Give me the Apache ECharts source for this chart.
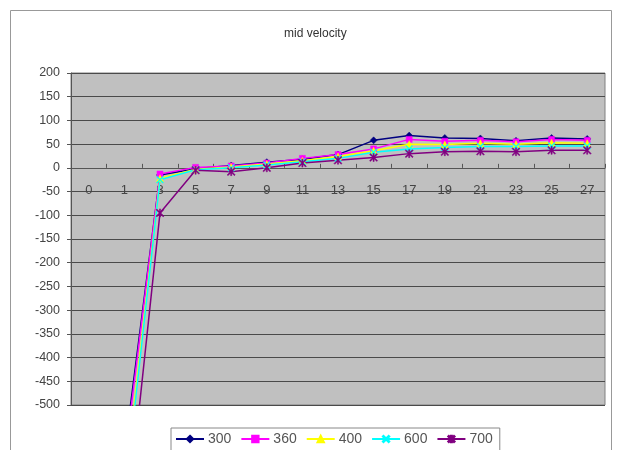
<!DOCTYPE html>
<html><head><meta charset="utf-8">
<script src="https://cdn.jsdelivr.net/npm/echarts@6/dist/echarts.min.js"></script>
<style>html,body{margin:0;padding:0;background:#fff}#c{width:618px;height:450px}</style>
</head><body><div id="c"></div>
<script>
const categories = ['0','1','3','5','7','9','11','13','15','17','19','21','23','25','27'];
const seriesNames = ['300','360','400','600','700'];
const s300 = [null,-600,-15,-2,5,12,18,28,58,68,63,62,57,63,61];
const s360 = [null,-620,-13,1,4,10,20,28,40,60,56,58,55,60,58];
const s400 = [null,-680,-22,-3,2,8,15,24,36,50,49,52,50,53,52];
const s600 = [null,-700,-25,-4,0,6,13,20,33,40,43,45,45,46,46];
const s700 = [null,-800,-95,-5,-8,0,10,16,22,30,34,35,34,37,37];
const yMin = -500, yMax = 200, yStep = 50;

const colors = ['#000080','#FF00FF','#FFFF00','#00FFFF','#800080'];
const symbols = [
  'diamond','rect','triangle',
  'path://M0,1L1,0L5,4L9,0L10,1L6,5L10,9L9,10L5,6L1,10L0,9L4,5Z',
  'path://M0,1L1,0L5,4L9,0L10,1L6,5L10,9L9,10L5,6L1,10L0,9L4,5ZM4.3,0L5.7,0L5.7,10L4.3,10Z'
];
const sizes = [7,6,7,7,8];
const allData = [s300,s360,s400,s600,s700];

const W = 618, H = 450;
const gridTop = 73, gridBottom = 45;
const plotH = H - gridTop - gridBottom;
const zeroOffset = -plotH * (0 - yMin) / (yMax - yMin);

const chart = echarts.init(document.getElementById('c'), null, {renderer:'canvas'});
chart.setOption({
  animation:false,
  backgroundColor:'#fff',
  title:{text:'mid velocity', left:279, top:23,
    textStyle:{fontFamily:'Liberation Sans, Arial, sans-serif', fontSize:12, fontWeight:'normal', color:'#333'}},
  graphic:[{type:'rect', shape:{x:10.5,y:10.5,width:601,height:460},
    style:{fill:'none', stroke:'#999', lineWidth:1}, silent:true, z:-1}],
  grid:{left:71, right:13, top:gridTop, bottom:gridBottom, show:true, backgroundColor:'#C0C0C0', borderColor:'#808080', borderWidth:1},
  legend:{
    data:seriesNames, left:171, top:428, orient:'horizontal',
    borderColor:'#888', borderWidth:1, backgroundColor:'#fff',
    padding:[4,7,8,4], itemGap:9, itemWidth:28, itemHeight:8,
    textStyle:{fontFamily:'Liberation Sans, Arial, sans-serif', fontSize:14, color:'#555', padding:[0,0,0,-1]}
  },
  xAxis:{
    type:'category', data:categories, boundaryGap:true, position:'bottom',
    offset: zeroOffset,
    axisLine:{onZero:false, lineStyle:{color:'#555', width:1}},
    axisTick:{show:true, inside:true, length:4, lineStyle:{color:'#555'}},
    axisLabel:{margin:16, fontFamily:'Liberation Sans, Arial, sans-serif', fontSize:13, color:'#444'},
    splitLine:{show:false}
  },
  yAxis:{
    type:'value', min:yMin, max:yMax, interval:yStep,
    axisLine:{show:true, lineStyle:{color:'#555'}},
    axisTick:{show:true, length:4, lineStyle:{color:'#555'}},
    axisLabel:{margin:11, fontFamily:'Liberation Sans, Arial, sans-serif', fontSize:12.5, color:'#444'},
    splitLine:{show:true, lineStyle:{color:'#4a4a4a', width:1}}
  },
  series: seriesNames.map((n,i)=>({
    name:n, type:'line', data:allData[i], clip:true,
    symbol:symbols[i], symbolSize:sizes[i], showSymbol:true,
    connectNulls:false,
    lineStyle:{color:colors[i], width:1.5},
    itemStyle:{color:colors[i], borderColor:colors[i], borderWidth:0.5}
  }))
});
</script></body></html>
